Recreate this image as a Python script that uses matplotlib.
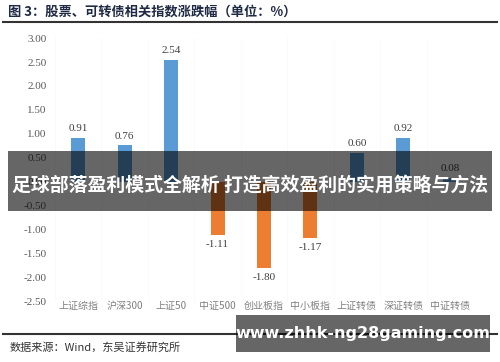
import matplotlib.pyplot as plt
from matplotlib.patches import Rectangle
from matplotlib.lines import Line2D

plt.rcParams['font.family'] = ['Noto Sans CJK SC', 'DejaVu Sans']

categories = ["上证综指", "沪深300", "上证50", "中证500", "创业板指",
              "中小板指", "上证转债", "深证转债", "中证转债"]
changes = [0.91, 0.76, 2.54, -1.11, -1.80, -1.17, 0.60, 0.92, 0.08]
yticks = [3.0, 2.5, 2.0, 1.5, 1.0, 0.5, 0.0, -0.5, -1.0, -1.5, -2.0, -2.5]

title = "图 3：股票、可转债相关指数涨跌幅（单位：%）"
source = "数据来源：Wind，东吴证券研究所"
banner = "足球部落盈利模式全解析 打造高效盈利的实用策略与方法"
watermark = "www.zhhk-ng28gaming.com"

blue = "#5B9BD5"
orange = "#ED7D31"

fig = plt.figure(figsize=(5, 3.62), dpi=100)
ax = fig.add_axes([0.11, 0.166, 0.836, 0.729])

colors = [blue if v >= 0 else orange for v in changes]
x = range(len(categories))
ax.bar(x, changes, width=0.3, color=colors, zorder=2)

for xi, v in zip(x, changes):
    off = 0.1 if v >= 0 else -0.1
    ax.text(xi, v + off, f"{v:.2f}", ha="center",
            va="bottom" if v >= 0 else "top",
            fontsize=8, color="#404040", family="Liberation Serif")

ax.set_xlim(-0.5, len(categories) - 0.5)
ax.set_ylim(-2.5, 3.0)
ax.set_yticks(yticks)
ax.set_yticklabels([f"{t:.2f}" for t in yticks], family="Liberation Serif",
                   fontsize=8, color="#595959")
ax.set_xticks(list(x))
ax.set_xticklabels(categories, fontsize=7.2, color="#808080")
ax.tick_params(length=0, pad=6)
ax.tick_params(axis="x", pad=-0.5)
for s in ax.spines.values():
    s.set_visible(False)
for xi in range(len(categories) + 1):
    ax.axvline(xi - 0.5, color="#fafafa", lw=0.6, zorder=0)

# header / footer
fig.text(0.016, 0.967, title, fontsize=9.5, fontweight="bold",
         color="#1f2a44", va="center")
fig.add_artist(Line2D([0.006, 0.994], [0.94, 0.94], color="#333333", lw=1.5))
fig.add_artist(Line2D([0.006, 0.994], [0.077, 0.077], color="#333333", lw=1.5))
fig.text(0.02, 0.04, source, fontsize=8, color="#333333", va="center")

# overlay bands
fig.add_artist(Rectangle((0.016, 0.417), 0.968, 0.166, transform=fig.transFigure,
                         color="black", alpha=0.6, lw=0, zorder=5))
fig.text(0.5, 0.49, banner, fontsize=13.6, fontweight="bold", color="white",
         ha="center", va="center", zorder=6)
fig.add_artist(Rectangle((0.472, 0.028), 0.508, 0.102, transform=fig.transFigure,
                         color="black", alpha=0.6, lw=0, zorder=5))
fig.text(0.726, 0.079, watermark, fontsize=11.5, fontweight="bold", color="white",
         ha="center", va="center", zorder=6, family="DejaVu Sans")

fig.savefig("out.png", dpi=100)
